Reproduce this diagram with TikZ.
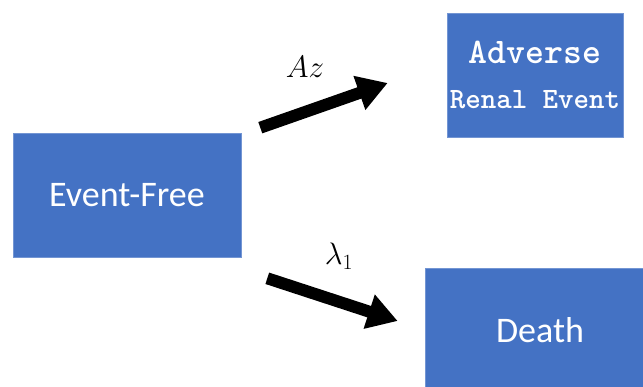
\RequirePackage{fix-cm}
\documentclass[tikz,border=0pt]{standalone}
\usepackage{fontspec}
\setmainfont{Carlito}
\usepackage{tikz}
\usetikzlibrary{arrows.meta}
\definecolor{boxblue}{RGB}{68,114,196}
\tikzset{box/.style={fill=boxblue, draw=boxblue!75!white, line width=.6pt, text=white, inner sep=0pt, font=\fontsize{36}{43}\selectfont},
    bigarrow/.style={line width=12pt, -{Triangle[length=30pt, width=34pt]}},
    rate/.style={font=\fontsize{31}{37}\selectfont}}

\begin{document}
\begin{tikzpicture}[x=1pt, y=1pt]
    \useasboundingbox (0,0) rectangle (643,387);
    \clip (0,0) rectangle (643,387);
    \node(free) at (127,192)[box, minimum width=228pt, minimum height=124pt]{Event-Free};
    \node(adverse) at (535,312)[box, minimum width=176pt, minimum height=124pt, align=center, font=\ttfamily\bfseries]{\fontsize{36}{40}\selectfont Adverse\\[26pt]\fontsize{29.5}{36}\selectfont Renal Event};
    \node(death) at (540,57)[box, minimum width=230pt, minimum height=124pt]{Death};
    \draw[bigarrow]([xshift=19pt, yshift=5pt]free.north east)--([xshift=-59pt, yshift=-8pt]adverse.west)node[rate, pos=.35, above=25pt]{$Az$};
    \draw[bigarrow]([xshift=26pt, yshift=-21pt]free.south east)--([xshift=-27pt, yshift=9pt]death.west)node[rate, pos=.55, above=23pt]{$\lambda_1$};
\end{tikzpicture}
\end{document}
